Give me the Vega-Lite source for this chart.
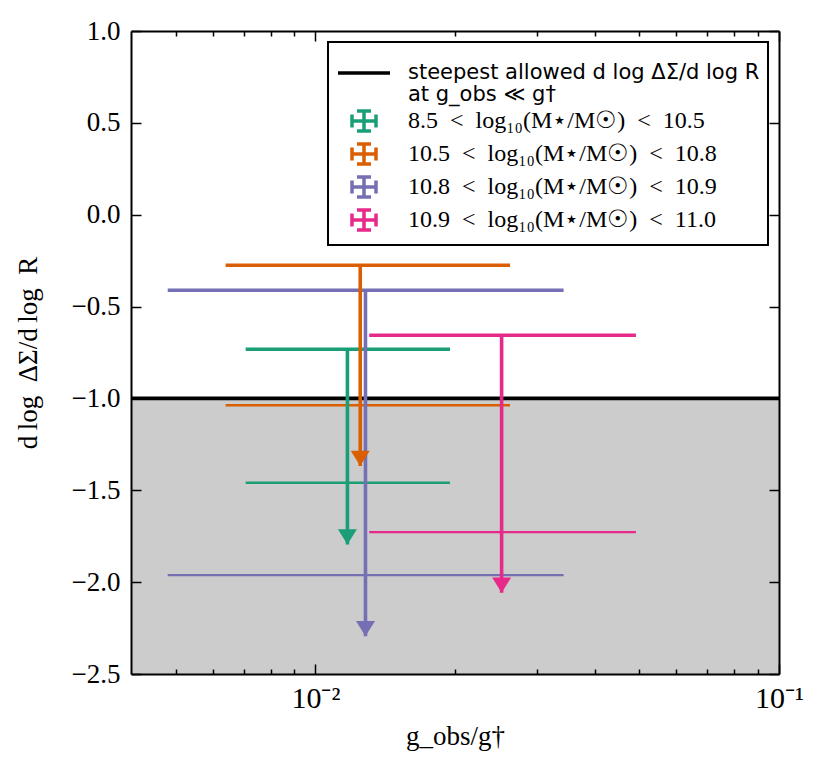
{
  "$schema": "https://vega.github.io/schema/vega-lite/v6.json",
  "width": 648,
  "height": 643,
  "autosize": {"type": "none"},
  "padding": {"left": 131, "top": 31, "right": 50, "bottom": 99},
  "background": "white",
  "config": {
    "view": {"stroke": null},
    "axis": {
      "grid": false, "ticks": true,
      "tickColor": "black", "tickWidth": 1.5, "tickOpacity": 1,
      "domainColor": "black", "domainWidth": 2,
      "labelColor": "black", "titleColor": "black",
      "labelFont": "Liberation Serif", "titleFont": "Liberation Serif",
      "labelFontSize": 27, "titleFontSize": 27, "titleFontWeight": "normal",
      "labelOverlap": false, "labelFlush": false
    }
  },
  "datasets": {
    "shade": [
      {"xlo": 0.004, "xhi": 0.1, "ylo": -2.5, "yhi": -1.0, "s": "steepest allowed d log ΔΣ/d log R\nat g_obs ≪ g†"}
    ],
    "limits": [
      {"s": "8.5\u2002<\u2002log₁₀(M⋆/M☉)\u2002<\u200210.5", "xlo": 0.00707, "xhi": 0.01951, "xa": 0.01172, "ytop": -0.732, "ylow": -1.459, "ytip": -1.795},
      {"s": "10.5\u2002<\u2002log₁₀(M⋆/M☉)\u2002<\u200210.8", "xlo": 0.0064, "xhi": 0.02629, "xa": 0.01249, "ytop": -0.275, "ylow": -1.037, "ytip": -1.368},
      {"s": "10.8\u2002<\u2002log₁₀(M⋆/M☉)\u2002<\u200210.9", "xlo": 0.0048, "xhi": 0.0343, "xa": 0.01282, "ytop": -0.411, "ylow": -1.962, "ytip": -2.294},
      {"s": "10.9\u2002<\u2002log₁₀(M⋆/M☉)\u2002<\u200211.0", "xlo": 0.01306, "xhi": 0.04913, "xa": 0.02521, "ytop": -0.656, "ylow": -1.728, "ytip": -2.058}
    ]
  },
  "layer": [
    {
      "data": {"name": "shade"},
      "mark": {"type": "rect", "color": "#cccccc"},
      "encoding": {
        "x": {
          "field": "xlo", "type": "quantitative",
          "scale": {"type": "log", "domain": [0.004, 0.1], "nice": false},
          "axis": {
            "orient": "bottom", "values": [0.01, 0.1], "offset": -10, "domain": false, "ticks": true, "zindex": 2,
            "labelExpr": "datum.value < 0.05 ? '10⁻²' : '10⁻¹'",
            "tickSize": 10, "labelPadding": 9, "labelFontSize": 30,
            "title": "g_obs/g†", "titlePadding": 10
          }
        },
        "x2": {"field": "xhi"},
        "y": {
          "field": "ylo", "type": "quantitative",
          "scale": {"domain": [-2.5, 1.0], "nice": false, "zero": false},
          "axis": {
            "orient": "left", "values": [-2.5, -2, -1.5, -1, -0.5, 0, 0.5, 1], "offset": -10, "domain": false, "ticks": true, "zindex": 2,
            "format": ".1f", "tickSize": 10, "labelPadding": 11,
            "title": "d\u2009log\u2002ΔΣ/d\u2009log\u2002R", "titlePadding": 29
          }
        },
        "y2": {"field": "yhi"}
      }
    },
    {
      "data": {"name": "shade"},
      "mark": {"type": "rule", "strokeWidth": 3.8},
      "encoding": {
        "x": {
          "field": "xlo", "type": "quantitative",
          "scale": {"type": "log", "domain": [0.004, 0.1], "nice": false},
          "axis": {"orient": "top", "values": [0.01, 0.1], "offset": -10, "domain": false, "ticks": true, "zindex": 2, "labels": false, "tickSize": 10, "title": null}
        },
        "x2": {"field": "xhi"},
        "y": {
          "field": "yhi", "type": "quantitative",
          "scale": {"domain": [-2.5, 1.0], "nice": false, "zero": false},
          "axis": {"orient": "right", "values": [-2.5, -2, -1.5, -1, -0.5, 0, 0.5, 1], "offset": -10, "domain": false, "ticks": true, "zindex": 2, "labels": false, "tickSize": 10, "title": null}
        },
        "color": {
          "field": "s", "type": "nominal",
          "scale": {
            "domain": [
              "steepest allowed d log ΔΣ/d log R\nat g_obs ≪ g†",
              "8.5\u2002<\u2002log₁₀(M⋆/M☉)\u2002<\u200210.5",
              "10.5\u2002<\u2002log₁₀(M⋆/M☉)\u2002<\u200210.8",
              "10.8\u2002<\u2002log₁₀(M⋆/M☉)\u2002<\u200210.9",
              "10.9\u2002<\u2002log₁₀(M⋆/M☉)\u2002<\u200211.0"
            ],
            "range": ["#000000", "#1b9e77", "#d95f02", "#7570b3", "#e7298a"]
          },
          "legend": {
            "title": " ", "titleFontSize": 8, "titlePadding": 3,
            "orient": "top-right", "offset": 11, "padding": 8,
            "strokeColor": "black", "fillColor": "white", "cornerRadius": 0,
            "symbolSize": 400, "symbolOffset": 16, "symbolStrokeWidth": 3.5, "labelOffset": 32, "rowPadding": -1,
            "labelLimit": 600, "labelFont": "Liberation Serif", "labelFontSize": 24, "labelColor": "black",
            "labelExpr": "split(datum.label, '\\n')",
            "encode": {
              "legend": {"update": {"strokeWidth": {"value": 2}}},
              "symbols": {
                "update": {
                  "shape": {"signal": "datum.index === 0 ? 'M-2.6,0L2.6,0' : 'M-1.2,0L1.2,0M0,-1L0,1M-1.2,-0.65L-1.2,0.65M1.2,-0.65L1.2,0.65M-0.7,-1L0.7,-1M-0.7,1L0.7,1'"},
                  "fill": {"value": "transparent"},
                  "stroke": {"scale": "color", "field": "value"},
                  "strokeWidth": {"value": 3.5},
                  "opacity": {"value": 1}
                }
              },
              "labels": {
                "update": {
                  "font": {"signal": "datum.index === 0 ? 'DejaVu Sans' : 'Liberation Serif'"},
                  "fontSize": {"signal": "datum.index === 0 ? 21 : 24"},
                  "lineHeight": {"value": 22}
                }
              }
            }
          }
        }
      }
    },
    {
      "data": {"name": "limits"},
      "mark": {"type": "rule", "strokeWidth": 2.3},
      "encoding": {
        "x": {
          "field": "xlo", "type": "quantitative",
          "scale": {"type": "log", "domain": [0.004, 0.1], "nice": false},
          "axis": {"orient": "bottom", "values": [0.005, 0.006, 0.007, 0.008, 0.009, 0.02, 0.03, 0.04, 0.05, 0.06, 0.07, 0.08, 0.09], "offset": -5, "ticks": true, "zindex": 2, "labels": false, "domain": false, "tickSize": 5, "title": null}
        },
        "x2": {"field": "xhi"},
        "y": {
          "field": "ylow", "type": "quantitative",
          "scale": {"domain": [-2.5, 1.0], "nice": false, "zero": false},
          "axis": {"orient": "left", "ticks": false, "labels": false, "zindex": 2, "title": null}
        },
        "color": {"field": "s", "type": "nominal"}
      }
    },
    {
      "data": {"name": "limits"},
      "mark": {"type": "rule", "strokeWidth": 3.6},
      "encoding": {
        "x": {
          "field": "xlo", "type": "quantitative",
          "scale": {"type": "log", "domain": [0.004, 0.1], "nice": false},
          "axis": {"orient": "top", "values": [0.005, 0.006, 0.007, 0.008, 0.009, 0.02, 0.03, 0.04, 0.05, 0.06, 0.07, 0.08, 0.09], "offset": -5, "ticks": true, "zindex": 2, "labels": false, "domain": false, "tickSize": 5, "title": null}
        },
        "x2": {"field": "xhi"},
        "y": {
          "field": "ytop", "type": "quantitative",
          "scale": {"domain": [-2.5, 1.0], "nice": false, "zero": false},
          "axis": {"orient": "right", "ticks": false, "labels": false, "zindex": 2, "title": null}
        },
        "color": {"field": "s", "type": "nominal"}
      }
    },
    {
      "data": {"name": "limits"},
      "mark": {"type": "rule", "strokeWidth": 3.6},
      "encoding": {
        "x": {
          "field": "xa", "type": "quantitative",
          "scale": {"type": "log", "domain": [0.004, 0.1], "nice": false},
          "axis": {"orient": "bottom", "ticks": false, "labels": false, "zindex": 2, "title": null}
        },
        "y": {"field": "ytop", "type": "quantitative", "scale": {"domain": [-2.5, 1.0], "nice": false, "zero": false}, "axis": null},
        "y2": {"field": "ytip"},
        "color": {"field": "s", "type": "nominal"}
      }
    },
    {
      "data": {"name": "limits"},
      "mark": {"type": "point", "shape": "M0,0L-1,-1.6L1,-1.6Z", "filled": true, "opacity": 1, "size": 361, "strokeWidth": 0},
      "encoding": {
        "x": {
          "field": "xa", "type": "quantitative",
          "scale": {"type": "log", "domain": [0.004, 0.1], "nice": false},
          "axis": {"orient": "top", "ticks": false, "labels": false, "zindex": 2, "title": null}
        },
        "y": {"field": "ytip", "type": "quantitative", "scale": {"domain": [-2.5, 1.0], "nice": false, "zero": false}, "axis": null},
        "color": {"field": "s", "type": "nominal"}
      }
    }
  ],
  "resolve": {"axis": {"x": "independent", "y": "independent"}}
}
